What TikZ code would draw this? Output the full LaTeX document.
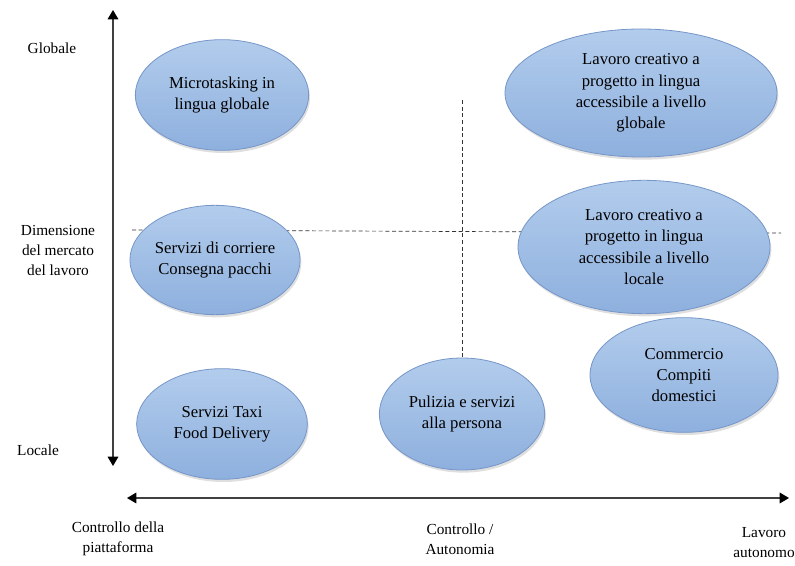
\documentclass[tikz,border=0pt]{standalone}
\usepackage{fontspec}
\setmainfont{Liberation Serif}
\usepackage{tikz}
\usetikzlibrary{positioning,arrows,arrows.meta,calc,shapes.geometric,shadows}
\definecolor{bubbletop}{RGB}{178,204,236}
\definecolor{bubblebot}{RGB}{142,176,222}
\definecolor{bubbleline}{RGB}{118,150,200}
\tikzset{
    bubble/.style = {
        draw=bubbleline,
        shape=ellipse,
        top color=bubbletop,
        bottom color=bubblebot,
        line width=0.6pt,
        align=center,
        inner sep=0pt,
        font=\fontsize{12.5}{16}\selectfont,
        drop shadow={opacity=0.25,shadow xshift=1pt,shadow yshift=-2pt}
    },
    axislabel/.style = {
        align=center,
        font=\fontsize{11.5}{15}\selectfont
    },
    axis/.style = {
        line width=0.9pt,
        black!75,
        {Triangle[width=8pt,length=7pt,black]}-{Triangle[width=8pt,length=7pt,black]}
    },
    guide/.style = {
        densely dashed,
        line width=0.5pt,
        black!80
    },
}

\begin{document}
\begin{tikzpicture}[x=0.75pt,y=-0.75pt]
    \useasboundingbox (0,0) rectangle (795,566);

    % guides and axes
    \coordinate (vtop) at (113,10);
    \coordinate (vbot) at (113,466);
    \coordinate (hleft) at (127,498);
    \coordinate (hright) at (789,498);
    \coordinate (dleft) at (132,230);
    \coordinate (dright) at (781,233);
    \coordinate (dtop) at (462,100);
    \coordinate (dbot) at (462,372);

    \draw[guide] (dleft) -- (dright);
    \draw[guide] (dtop) -- (dbot);
    \draw[axis] (vtop) -- (vbot);
    \draw[axis] (hleft) -- (hright);

    % bubbles
    \node[bubble, minimum width=130pt, minimum height=83pt] (micro) at (222,95) {Microtasking in\\lingua globale};
    \node[bubble, minimum width=204pt, minimum height=96pt] (creaglob) at (641,93) {Lavoro creativo a\\progetto in lingua\\accessibile a livello\\globale};
    \node[bubble, minimum width=127pt, minimum height=82pt] (corriere) at (215,260) {Servizi di corriere\\Consegna pacchi};
    \node[bubble, minimum width=189pt, minimum height=100pt] (crealoc) at (644,247) {Lavoro creativo a\\progetto in lingua\\accessibile a livello\\locale};
    \node[bubble, minimum width=141pt, minimum height=86pt] (commercio) at (684,375) {Commercio\\Compiti\\domestici};
    \node[bubble, minimum width=128pt, minimum height=83pt] (taxi) at (222,424) {Servizi Taxi\\Food Delivery};
    \node[bubble, minimum width=124pt, minimum height=84pt] (pulizia) at (462,414) {Pulizia e servizi\\alla persona};

    % labels
    \node[axislabel] (globale) at (52,48) {Globale};
    \node[axislabel] (dimensione) at (58,250) {Dimensione\\del mercato\\del lavoro};
    \node[axislabel] (locale) at (38,450) {Locale};
    \node[axislabel] (piattaforma) at (118,539) {Controllo della\\piattaforma};
    \node[axislabel] (autonomia) at (460,539) {Controllo /\\Autonomia};
    \node[axislabel] (autonomo) at (764,543) {Lavoro\\autonomo};

\end{tikzpicture}
\end{document}
